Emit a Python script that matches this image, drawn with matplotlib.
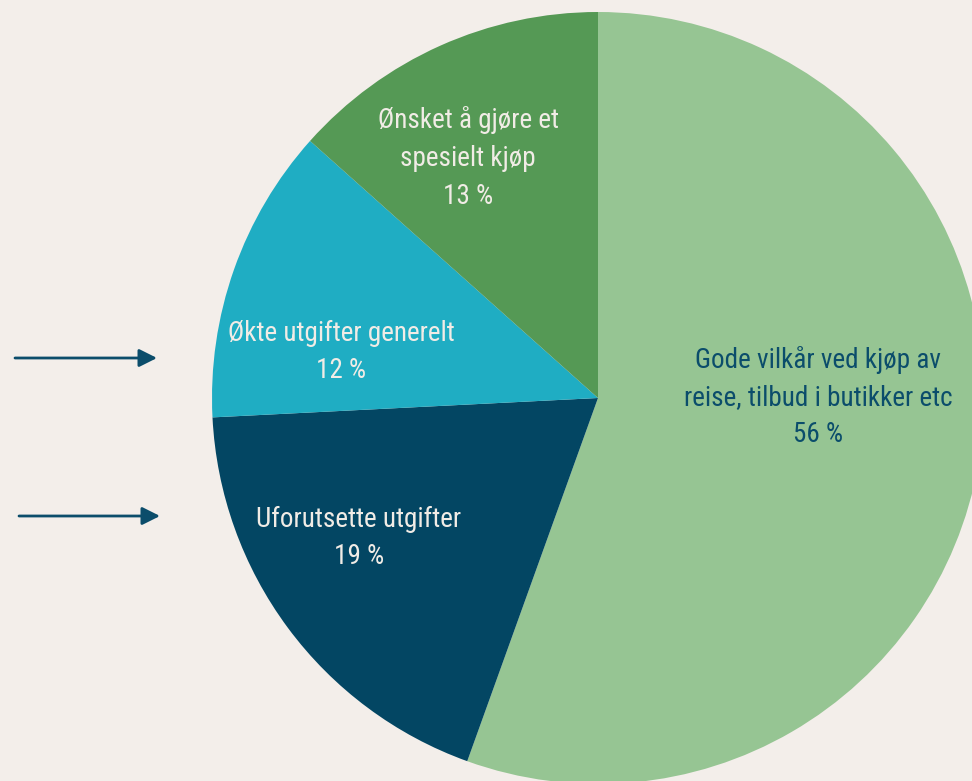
import matplotlib
matplotlib.use("Agg")
import matplotlib.pyplot as plt
from matplotlib import font_manager

labels = ["Gode vilkår ved kjøp av\nreise, tilbud i butikker etc",
          "Uforutsette utgifter",
          "Økte utgifter generelt",
          "Ønsket å gjøre et\nspesielt kjøp"]
values = [55.5, 18.7, 12.4, 13.4]          # slice shares
pct_labels = [56, 19, 12, 13]              # percentages printed in the labels
colors = ["#96C593", "#034663", "#1FADC3", "#559955"]
text_colors = ["#0B4D6B", "#F1ECE6", "#F1ECE6", "#F1ECE6"]

bg = "#F3EEEA"
W, H = 972, 781
fig = plt.figure(figsize=(W / 100, H / 100), dpi=100, facecolor=bg)

cx, cy, r = 598, 398, 386
ax = fig.add_axes([(cx - r) / W, (H - (cy + r)) / H, 2 * r / W, 2 * r / H])

ax.pie(values, colors=colors, startangle=90, counterclock=False, radius=1,
       wedgeprops=dict(linewidth=0))
ax.set_xlim(-1, 1)
ax.set_ylim(-1, 1)
ax.set_aspect("equal")
ax.axis("off")

avail = {f.name for f in font_manager.fontManager.ttflist}
fam = [f for f in ["Liberation Sans Narrow", "Roboto Condensed", "Roboto", "DejaVu Sans"] if f in avail]

# label centres in pixel coords of the reference
label_px = [(818, 397), (359, 538), (341, 352), (468, 158)]
for lab, v, tc, (px, py) in zip(labels, pct_labels, text_colors, label_px):
    ax.text((px - cx) / r, (cy - py) / r, f"{lab}\n{v} %", ha="center", va="center",
            color=tc, fontsize=19.5, linespacing=1.5, family=fam)

arrow_color = "#0B4D6B"
for (x0, x1, y) in [(15, 157, 358), (19, 160, 516)]:
    fig.add_artist(matplotlib.patches.FancyArrowPatch(
        (x0 / W, 1 - y / H), (x1 / W, 1 - y / H), transform=fig.transFigure,
        arrowstyle="-|>,head_length=0.9,head_width=0.45", mutation_scale=12,
        lw=2, color=arrow_color, shrinkA=0, shrinkB=0))

fig.savefig("out.png", dpi=100, facecolor=bg)
